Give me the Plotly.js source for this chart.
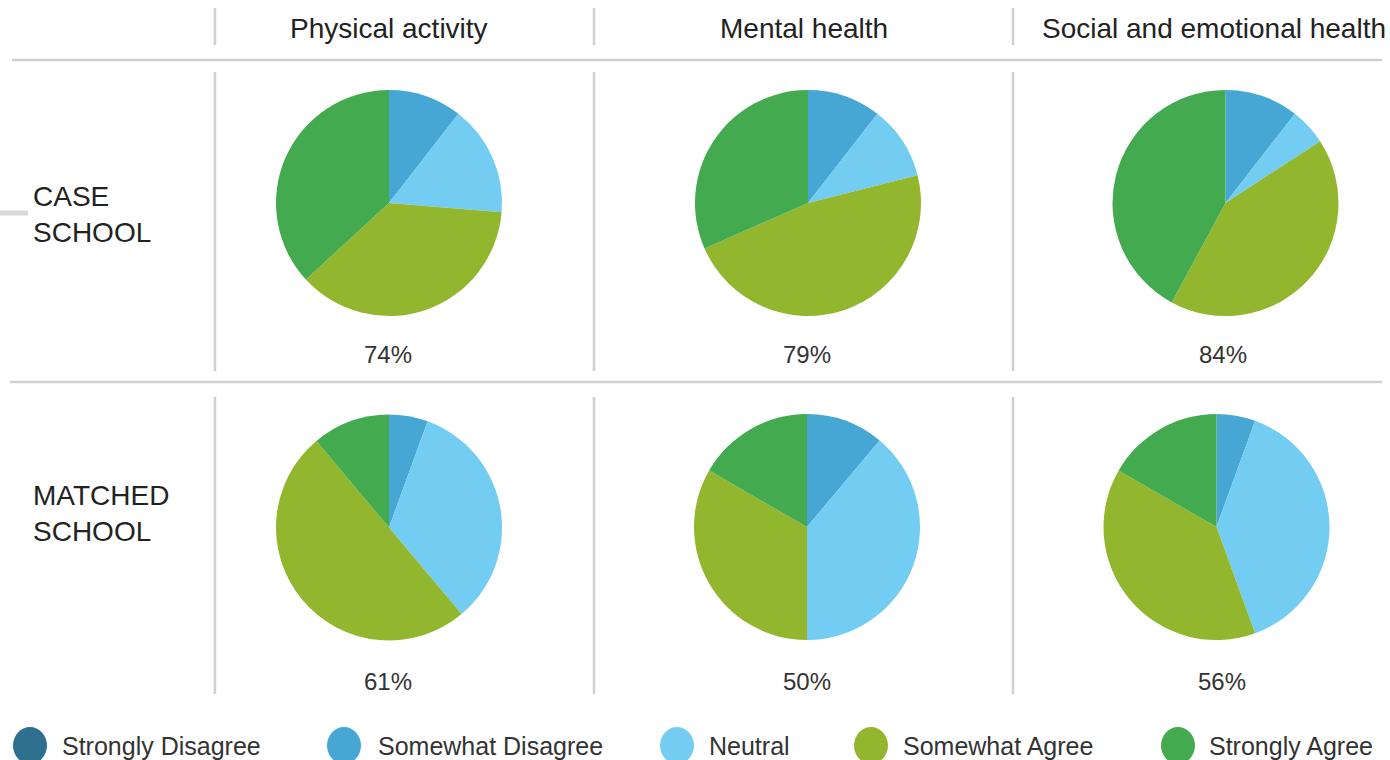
<!DOCTYPE html>
<html>
<head>
<meta charset="utf-8">
<script src="https://cdn.plot.ly/plotly-3.0.1.min.js"></script>
<style>
  html, body { margin: 0; padding: 0; background: #ffffff; }
  #chart { width: 1390px; height: 760px; }
</style>
</head>
<body>
<div id="chart"></div>
<script>
// ---- data ----
const categories = ["Strongly Disagree", "Somewhat Disagree", "Neutral", "Somewhat Agree", "Strongly Agree"];
const topics = ["Physical activity", "Mental health", "Social and emotional health"];
const schools = ["CASE<br>SCHOOL", "MATCHED<br>SCHOOL"];
// response counts per category (Strongly Disagree .. Strongly Agree)
const casePhysical = [0, 2, 3, 7, 7];
const caseMental   = [0, 2, 2, 9, 6];
const caseSocial   = [0, 2, 1, 8, 8];
const matchedPhysical = [0, 1, 6, 9, 2];
const matchedMental   = [0, 2, 7, 6, 3];
const matchedSocial   = [0, 1, 7, 7, 3];
const colors = ["#2d6f8c", "#46a6d4", "#73cdf2", "#93b62f", "#43aa4f"];

// ---- layout helpers ----
const W = 1390, H = 760;
const FONT = "Liberation Sans, Arial, Helvetica, sans-serif";
const TXT = "#333333";
const px = x => x / W;
const py = y => 1 - y / H;

const rowsData = [[casePhysical, caseMental, caseSocial], [matchedPhysical, matchedMental, matchedSocial]];
const centers = [
  [[389, 203], [808, 203], [1225.5, 203]],
  [[389, 527.5], [807, 527], [1216.5, 527]]
];
const R = 113;
const pctPos = [[[388, 355], [807, 355], [1223, 355]], [[388, 681], [807, 681], [1222, 681]]];

const traces = [];
const annotations = [];
rowsData.forEach((row, r) => {
  row.forEach((vals, c) => {
    const [cx, cy] = centers[r][c];
    traces.push({
      type: "pie",
      labels: categories,
      values: vals,
      sort: false,
      direction: "clockwise",
      rotation: 0,
      textinfo: "none",
      hoverinfo: "label+percent",
      marker: { colors: colors, line: { width: 0 } },
      showlegend: false,
      domain: { x: [px(cx - R), px(cx + R)], y: [py(cy + R), py(cy - R)] }
    });
    const total = vals.reduce((a, b) => a + b, 0);
    const agree = Math.round(100 * (vals[3] + vals[4]) / total);
    annotations.push({
      text: agree + "%", x: px(pctPos[r][c][0]), y: py(pctPos[r][c][1]),
      xref: "paper", yref: "paper", showarrow: false, xanchor: "center", yanchor: "middle",
      font: { family: FONT, size: 24, color: TXT }
    });
  });
});

// column headers
const headerX = [388.5, 803.5, 1214];
topics.forEach((t, i) => annotations.push({
  text: t, x: px(headerX[i]), y: py(29), xref: "paper", yref: "paper", showarrow: false,
  xanchor: "center", yanchor: "middle", font: { family: FONT, size: 28, color: "#222222" }
}));
// row labels
const rowLabelY = [214, 513];
schools.forEach((s, i) => annotations.push({
  text: s, x: px(31), y: py(rowLabelY[i]), xref: "paper", yref: "paper", showarrow: false,
  xanchor: "left", yanchor: "middle", align: "left",
  font: { family: FONT, size: 28, color: "#222222" }
}));

// legend (circles + text)
const legCircleX = [30, 344, 677, 871, 1178];
const legTextX = [60, 376, 707, 901, 1207];
const legY = 745;
const shapes = [];
categories.forEach((cat, i) => {
  shapes.push({
    type: "circle", xref: "paper", yref: "paper",
    x0: px(legCircleX[i] - 17), x1: px(legCircleX[i] + 17),
    y0: py(legY + 19), y1: py(legY - 18),
    fillcolor: colors[i], line: { width: 0 }
  });
  annotations.push({
    text: cat, x: px(legTextX[i]), y: py(legY + 1), xref: "paper", yref: "paper", showarrow: false,
    xanchor: "left", yanchor: "middle", font: { family: FONT, size: 25, color: TXT }
  });
});

// grid lines
const LINE = "#cfcfcf";
const vx = [215, 594, 1013];
const vSegs = [[8, 45], [72, 371], [397, 694]];
vx.forEach(x => vSegs.forEach(([a, b]) => shapes.push({
  type: "line", xref: "paper", yref: "paper", x0: px(x), x1: px(x), y0: py(a), y1: py(b),
  line: { color: LINE, width: 2.5 }
})));
[[60, 12], [382, 10]].forEach(([y, x0]) => shapes.push({
  type: "line", xref: "paper", yref: "paper", x0: px(x0), x1: px(1382), y0: py(y), y1: py(y),
  line: { color: LINE, width: 2.5 }
}));
// small smudge at left edge
shapes.push({
  type: "line", xref: "paper", yref: "paper", x0: px(0), x1: px(28), y0: py(213), y1: py(213),
  line: { color: "rgba(170,170,170,0.45)", width: 5 }
});

const layout = {
  width: W, height: H,
  margin: { l: 0, r: 0, t: 0, b: 0 },
  paper_bgcolor: "#ffffff",
  plot_bgcolor: "#ffffff",
  showlegend: false,
  annotations: annotations,
  shapes: shapes
};

Plotly.newPlot("chart", traces, layout, { displayModeBar: false, staticPlot: true });
</script>
</body>
</html>
